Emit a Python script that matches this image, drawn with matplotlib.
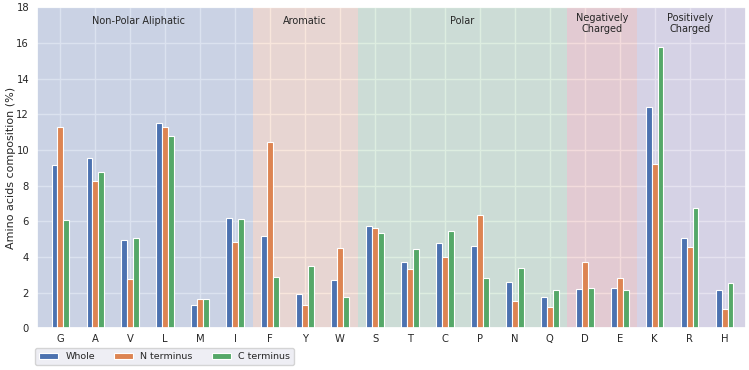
import matplotlib
matplotlib.use("Agg")
import matplotlib.pyplot as plt
import numpy as np
import seaborn as sns

sns.set_theme(style="darkgrid")

amino = ["G", "A", "V", "L", "M", "I", "F", "Y", "W", "S", "T", "C", "P", "N", "Q", "D", "E", "K", "R", "H"]
whole = [9.16, 9.55, 4.97, 11.51, 1.31, 6.19, 5.18, 1.91, 2.71, 5.75, 3.72, 4.80, 4.62, 2.61, 1.76, 2.20, 2.28, 12.43, 5.08, 2.17]
n_term = [11.27, 8.26, 2.78, 11.31, 1.63, 4.84, 10.47, 1.32, 4.50, 5.63, 3.34, 4.00, 6.36, 1.55, 1.21, 3.74, 2.84, 9.23, 4.56, 1.07]
c_term = [6.09, 8.77, 5.06, 10.80, 1.66, 6.13, 2.86, 3.48, 1.76, 5.36, 4.47, 5.44, 2.82, 3.40, 2.17, 2.28, 2.17, 15.79, 6.75, 2.56]
series_names = ["Whole", "N terminus", "C terminus"]

groups = ["Non-Polar Aliphatic", "Aromatic", "Polar", "Negatively\nCharged", "Positively\nCharged"]
group_sizes = [6, 3, 6, 2, 3]

pal = sns.color_palette("deep")

fig, ax = plt.subplots(figsize=(7.49, 3.70), dpi=100)
fig.subplots_adjust(left=0.049, right=0.996, top=0.980, bottom=0.113)

x = np.arange(len(amino))
w = 1 / 6
for i, (vals, name) in enumerate(zip([whole, n_term, c_term], series_names)):
    ax.bar(x + (i - 1) * w, vals, width=w, color=pal[i], edgecolor="white", linewidth=0.8, label=name, zorder=2)

xmin, xmax = -0.675, 19.61
start = -0.5
for gi, (g, n) in enumerate(zip(groups, group_sizes)):
    left = start
    right = start + n
    lo = -1.0 if gi == 0 else left
    hi = 20.0 if gi == len(groups) - 1 else right
    ax.axvspan(lo, hi, color=pal[gi], alpha=0.2, lw=0, zorder=1)
    cx = (lo + right) / 2 if gi == 0 else (left + right) / 2
    ax.text(cx, 17.25 if "\n" not in g else 17.1, g, ha="center", va="center", fontsize=7,
            color=".15", zorder=3, linespacing=1.15)
    start = right

ax.set_xlim(xmin, xmax)
ax.set_ylim(0, 18)
ax.set_yticks(np.arange(0, 19, 2))
ax.set_xticks(x)
ax.set_xticklabels(amino)
ax.tick_params(axis="y", labelsize=7.2, pad=5.5, length=0)
ax.tick_params(axis="x", labelsize=7.2, pad=4, length=0)
ax.set_ylabel("Amino acids composition (%)", fontsize=8, labelpad=0)
ax.legend(loc="upper left", bbox_to_anchor=(-0.002, -0.063), ncol=3, fontsize=6.8, frameon=True,
          borderaxespad=0)

fig.savefig("out.png", dpi=100)
